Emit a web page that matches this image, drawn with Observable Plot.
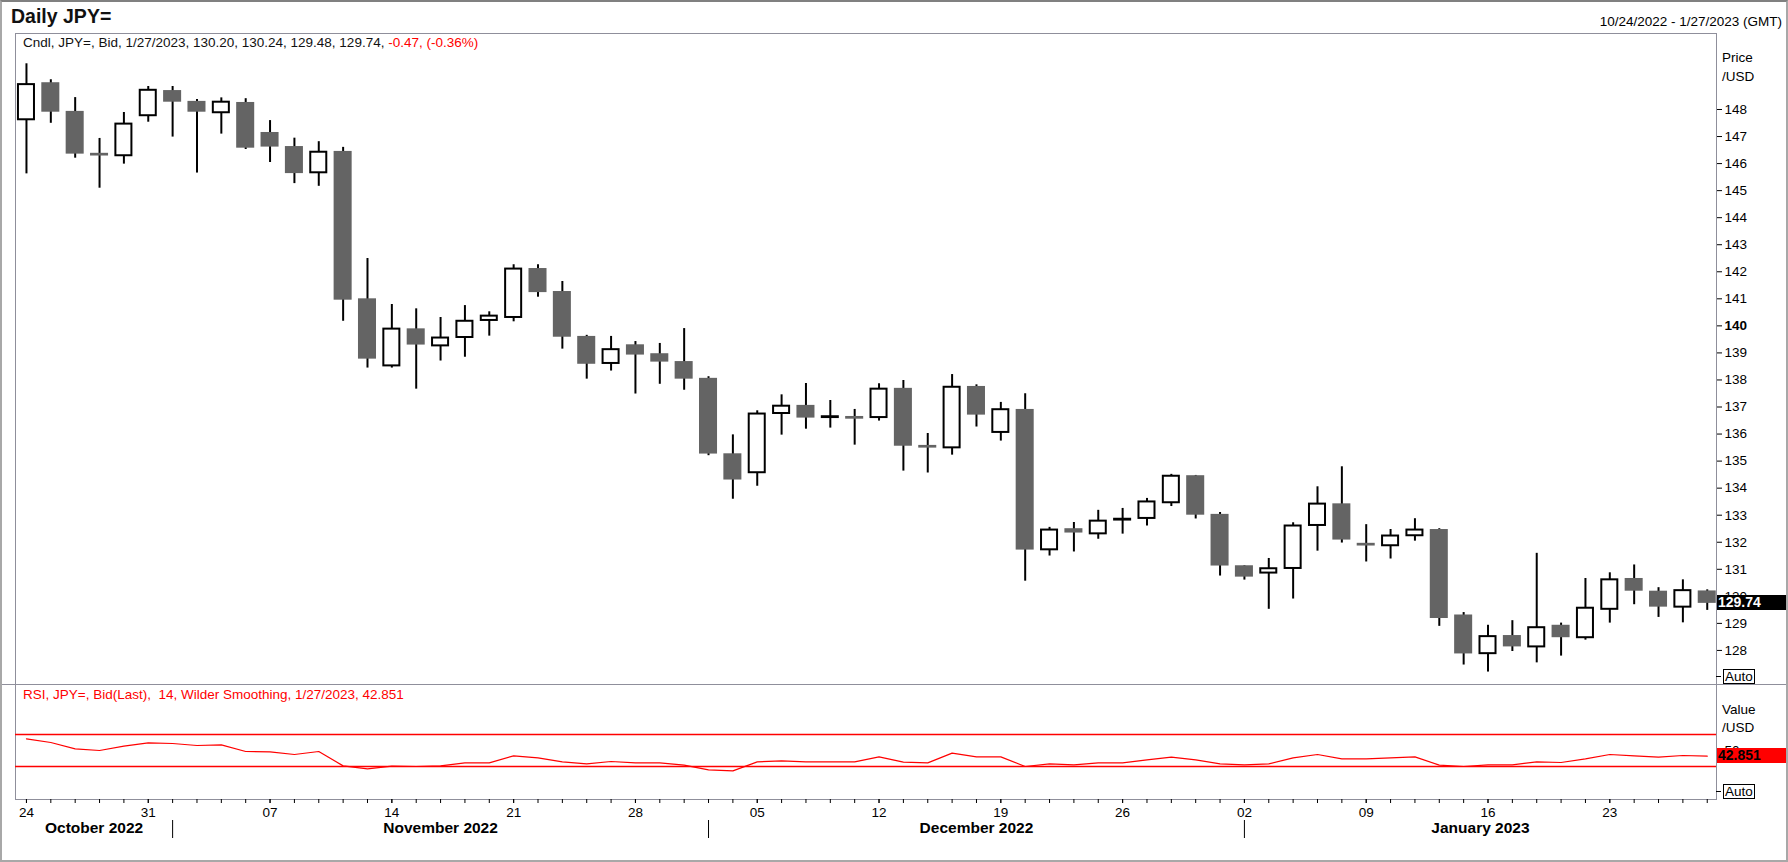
<!DOCTYPE html>
<html><head><meta charset="utf-8">
<script src="https://cdn.jsdelivr.net/npm/d3@7"></script>
<script src="https://cdn.jsdelivr.net/npm/@observablehq/plot@0.6"></script>
<style>
html,body{margin:0;padding:0;background:#fff;}
#wrap{position:relative;width:1788px;height:862px;overflow:hidden;background:#fff;font-family:"Liberation Sans",Arial,sans-serif;color:#000;}
.abs{position:absolute;white-space:pre;font-size:13.5px;line-height:16px;}
#price,#rsi{position:absolute;left:0;}
#price{top:32px;} #rsi{top:683px;}
.auto{position:absolute;left:1723px;width:29px;height:13px;border:1px solid #000;font-size:13.5px;line-height:13px;padding-left:1px;background:#fff;}
.dash{position:absolute;left:1716px;width:5px;height:1px;background:#000;}
.box{position:absolute;left:1717px;width:68px;height:15px;font-size:14px;line-height:15px;font-weight:bold;padding-left:1px;}
</style></head><body>
<div id="wrap">
  <div class="abs" style="left:11px;top:5px;font-size:19.5px;line-height:22px;font-weight:bold;color:#111;">Daily JPY=</div>
  <div class="abs" id="range" style="right:6px;top:14px;"></div>
  <div id="price"></div>
  <div id="rsi"></div>
  <div class="abs" id="legend" style="left:23px;top:35px;"></div>
  <div class="abs" id="rsiLegend" style="left:23px;top:687px;color:#ff0000;"></div>
  <div class="abs" style="left:1722px;top:50px;">Price</div>
  <div class="abs" style="left:1722px;top:69px;">/USD</div>
  <div class="abs" style="left:1722px;top:702px;">Value</div>
  <div class="abs" style="left:1722px;top:720px;">/USD</div>
  <div class="dash" style="top:676px;"></div>
  <div class="auto" style="top:669px;">Auto</div>
  <div class="dash" style="top:791px;"></div>
  <div class="auto" style="top:784px;">Auto</div>
  <div id="sep" style="position:absolute;left:0;top:684px;width:1788px;height:1px;background:#8f8f9b;"></div>
  <div style="position:absolute;left:0;top:0;width:1788px;height:862px;box-sizing:border-box;border:2px solid #a8a8a8;border-top-color:#808080;pointer-events:none;"></div>
</div>
<script>
const dates = [
 "2022-10-24","2022-10-25","2022-10-26","2022-10-27","2022-10-28","2022-10-31",
 "2022-11-01","2022-11-02","2022-11-03","2022-11-04",
 "2022-11-07","2022-11-08","2022-11-09","2022-11-10","2022-11-11",
 "2022-11-14","2022-11-15","2022-11-16","2022-11-17","2022-11-18",
 "2022-11-21","2022-11-22","2022-11-23","2022-11-24","2022-11-25",
 "2022-11-28","2022-11-29","2022-11-30","2022-12-01","2022-12-02",
 "2022-12-05","2022-12-06","2022-12-07","2022-12-08","2022-12-09",
 "2022-12-12","2022-12-13","2022-12-14","2022-12-15","2022-12-16",
 "2022-12-19","2022-12-20","2022-12-21","2022-12-22","2022-12-23",
 "2022-12-26","2022-12-27","2022-12-28","2022-12-29","2022-12-30",
 "2023-01-02","2023-01-03","2023-01-04","2023-01-05","2023-01-06",
 "2023-01-09","2023-01-10","2023-01-11","2023-01-12","2023-01-13",
 "2023-01-16","2023-01-17","2023-01-18","2023-01-19","2023-01-20",
 "2023-01-23","2023-01-24","2023-01-25","2023-01-26","2023-01-27"
];
const open = [
 147.62,148.99,147.93,146.38,146.29,147.77,
 148.70,148.30,147.88,148.26,
 147.15,146.63,145.66,146.45,141.00,
 138.52,139.89,139.26,139.57,140.20,
 140.31,142.12,141.27,139.61,138.61,
 139.30,138.97,138.68,138.06,135.27,
 134.57,136.76,137.06,136.61,136.65,
 136.61,137.69,135.58,135.49,137.76,
 136.06,136.91,131.72,132.50,132.31,
 132.82,132.88,133.46,134.46,133.03,
 131.13,130.86,131.03,132.62,133.42,
 131.96,131.87,132.24,132.47,129.31,
 127.88,128.55,128.13,128.93,128.47,
 129.52,130.66,130.19,129.60,130.20
];
const high = [
 149.69,149.10,148.44,146.93,147.89,148.85,
 148.85,148.37,148.43,148.40,
 147.59,146.94,146.81,146.60,142.49,
 140.79,140.63,140.31,140.75,140.52,
 142.26,142.26,141.64,139.65,139.61,
 139.42,139.35,139.90,138.12,135.97,
 136.86,137.45,137.87,137.24,136.91,
 137.86,137.98,136.02,138.20,137.82,
 137.17,137.49,132.55,132.73,133.18,
 133.25,133.62,134.51,134.47,133.10,
 131.13,131.40,132.72,134.05,134.79,
 132.65,132.47,132.87,132.50,129.40,
 128.93,129.10,131.59,129.01,130.66,
 130.87,131.16,130.32,130.61,130.24
];
const low = [
 145.62,147.49,146.20,145.09,145.98,147.53,
 146.98,145.65,147.09,146.52,
 146.04,145.26,145.16,140.17,138.44,
 138.44,137.66,138.70,138.84,139.62,
 140.15,141.06,139.14,138.03,138.33,
 137.48,137.84,137.62,135.20,133.59,
 134.07,135.96,136.18,136.22,135.59,
 136.48,134.63,134.56,135.22,136.26,
 135.74,130.56,131.49,131.64,132.11,
 132.30,132.60,133.32,132.86,130.75,
 130.60,129.52,129.90,131.67,131.97,
 131.27,131.38,132.04,128.89,127.46,
 127.20,127.96,127.54,127.79,128.38,
 129.01,129.69,129.22,129.02,129.48
];
const close = [
 148.92,147.90,146.35,146.28,147.46,148.71,
 148.27,147.90,148.27,146.57,
 146.61,145.63,146.42,140.95,138.77,
 139.88,139.29,139.55,140.17,140.36,
 142.10,141.23,139.58,138.58,139.12,
 138.92,138.66,138.03,135.26,134.30,
 136.74,137.03,136.59,136.64,136.55,
 137.66,135.55,135.48,137.73,136.70,
 136.90,131.71,132.45,132.34,132.78,
 132.85,133.49,134.44,133.00,131.12,
 130.71,131.02,132.60,133.41,132.08,
 131.86,132.23,132.45,129.18,127.87,
 128.51,128.13,128.84,128.47,129.56,
 130.61,130.19,129.60,130.21,129.74
];
const rsi = [
 64.6,60.0,52.1,50.0,55.4,59.6,
 58.75,56.25,57.1,48.75,
 48.3,45.0,48.75,30.8,27.1,
 30.4,30.0,30.8,34.6,34.6,
 43.3,40.8,35.8,33.3,36.25,
 34.6,34.6,31.7,25.8,24.6,
 35.8,37.1,35.8,35.8,35.8,
 42.1,35.4,34.6,46.7,42.1,
 42.1,30.0,33.3,32.1,34.6,
 34.6,38.3,41.7,38.3,33.3,
 32.1,33.3,40.8,45.0,39.6,
 39.6,40.8,42.1,31.7,30.0,
 32.1,32.1,35.8,35.0,39.6,
 45.0,43.3,41.7,43.75,42.851
];
const priceTicks = [128,129,130,131,132,133,134,135,136,137,138,139,140,141,142,143,144,145,146,147,148];
const boldPriceTick = 140;
const rsiLevels = [70, 30];
const rsiTicks = [50];

const n = dates.length;
const idx = d3.range(n);
const dd = dates.map(d3.utcParse("%Y-%m-%d"));
const xDomain = [-0.45, n - 1 + 0.38];
const bw = 0.37;
const candles = idx.map(i => ({i, o: open[i], h: high[i], l: low[i], c: close[i]}));
const up = candles.filter(d => d.c >= d.o);
const down = candles.filter(d => d.c < d.o);
const mondays = idx.filter(i => dd[i].getUTCDay() === 1);
const monthStarts = idx.filter(i => i > 0 && dd[i].getUTCMonth() !== dd[i - 1].getUTCMonth());
const bounds = [xDomain[0], ...monthStarts, xDomain[1]];
const fmtMonth = d3.utcFormat("%B %Y");
const months = bounds.slice(0, -1).map((b, k) => ({x: (b + bounds[k + 1]) / 2, label: fmtMonth(dd[k === 0 ? 0 : monthStarts[k - 1]])}));
const fmtDay = d3.utcFormat("%d");
const fmtUS = d => `${d.getUTCMonth() + 1}/${d.getUTCDate()}/${d.getUTCFullYear()}`;

const font = '"Liberation Sans", Arial, sans-serif';
const style = {fontFamily: font, fontSize: "13.5px", color: "#000", background: "transparent", overflow: "visible"};
const frameColor = "#8f8f9b";

const price = Plot.plot({
  width: 1788, height: 653, marginLeft: 15, marginRight: 72, marginTop: 1, marginBottom: 1,
  style,
  x: {domain: xDomain, axis: null, label: null},
  y: {domain: [126.74, 150.81], axis: null, label: null},
  marks: [
    Plot.frame({stroke: frameColor}),
    Plot.ruleX(candles, {x: "i", y1: "l", y2: "h", stroke: "#000", strokeWidth: 2}),
    Plot.rect(down, {x1: d => d.i - bw, x2: d => d.i + bw, y1: "o", y2: "c", fill: "#646464"}),
    Plot.rect(up, {x1: d => d.i - bw, x2: d => d.i + bw, y1: "o", y2: "c", fill: "#fff", stroke: "#000", strokeWidth: 2, insetLeft: 1, insetRight: 1}),
    Plot.axisY(priceTicks.filter(v => v !== boldPriceTick), {anchor: "right", tickSize: 5, tickPadding: 3, fontSize: 13.5, label: null}),
    Plot.axisY([boldPriceTick], {anchor: "right", tickSize: 5, tickPadding: 3, fontSize: 13.5, fontWeight: "bold", label: null})
  ]
});
document.getElementById("price").append(price);

const rsiData = idx.map(i => ({i, v: rsi[i]}));
const rsiPlot = Plot.plot({
  width: 1788, height: 179, marginLeft: 15, marginRight: 72, marginTop: 1, marginBottom: 63,
  style,
  x: {domain: xDomain, axis: null, label: null},
  y: {domain: [-11.25, 132.5], axis: null, label: null},
  marks: [
    Plot.frame({stroke: frameColor}),
    Plot.ruleY(rsiLevels, {stroke: "#ff0000", strokeWidth: 1.5}),
    Plot.line(rsiData, {x: "i", y: "v", stroke: "#ff0000", strokeWidth: 1.2}),
    Plot.axisY(rsiTicks, {anchor: "right", tickSize: 5, tickPadding: 3, fontSize: 13.5, label: null}),
    Plot.axisX(idx, {anchor: "bottom", tickSize: 4, tickFormat: () => "", label: null}),
    Plot.axisX(mondays, {anchor: "bottom", tickSize: 4, tickPadding: 4, fontSize: 13.5, tickFormat: i => fmtDay(dd[i]), label: null}),
    Plot.axisX(monthStarts, {anchor: "bottom", tickSize: 18, dy: 21, tickFormat: () => "", label: null}),
    Plot.text(months, {x: "x", text: "label", frameAnchor: "bottom", dy: 29, lineAnchor: "middle", fontWeight: "bold", fontSize: 15.5, fill: "#000"})
  ]
});
document.getElementById("rsi").append(rsiPlot);

// texts
const last = n - 1;
const chg = close[last] - close[last - 1];
const pct = chg / close[last - 1] * 100;
document.getElementById("range").textContent = `${fmtUS(dd[0])} - ${fmtUS(dd[last])} (GMT)`;
document.getElementById("legend").innerHTML =
  `<span style="color:#111">Cndl, JPY=, Bid, ${fmtUS(dd[last])}, ${open[last].toFixed(2)}, ${high[last].toFixed(2)}, ${low[last].toFixed(2)}, ${close[last].toFixed(2)}, </span><span style="color:#ff0000">${chg.toFixed(2)}, (${pct.toFixed(2)}%)</span>`;
document.getElementById("rsiLegend").textContent = `RSI, JPY=, Bid(Last),  14, Wilder Smoothing, ${fmtUS(dd[last])}, ${rsi[last].toFixed(3)}`;

// last-value boxes positioned with the plots' scales
const wrap = document.getElementById("wrap");
const yp = 32 + price.scale("y").apply(close[last]);
const pb = document.createElement("div");
pb.className = "box";
pb.style.cssText = `top:${yp - 7.5}px;background:#000;color:#fff;`;
pb.textContent = close[last].toFixed(2);
wrap.append(pb);
const yr = 683 + rsiPlot.scale("y").apply(rsi[last]);
const rb = document.createElement("div");
rb.className = "box";
rb.style.cssText = `top:${yr - 7.5}px;background:#ff0000;color:#000;`;
rb.textContent = rsi[last].toFixed(3);
wrap.append(rb);
</script>
</body></html>
